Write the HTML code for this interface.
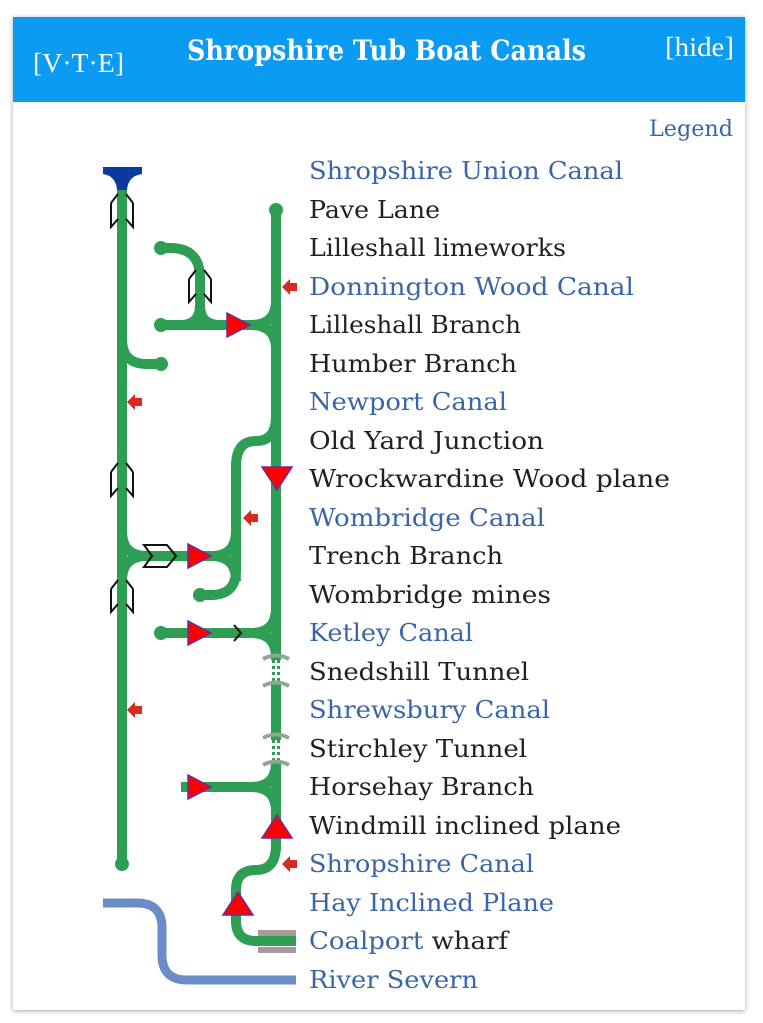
<!DOCTYPE html>
<html><head><meta charset="utf-8"><style>
body{margin:0;background:#fff;width:763px;height:1023px;overflow:hidden}
.card{position:absolute;left:13px;top:17px;width:732px;height:993px;background:#fff;box-shadow:0 1px 5px rgba(0,0,0,0.35)}
svg{position:absolute;left:0;top:0}
</style></head><body>
<div class="card"></div>
<svg width="763" height="1023" viewBox="0 0 763 1023" font-family="'DejaVu Serif','Liberation Serif',serif">
<rect x="13" y="17" width="732" height="85" fill="#0b9bf2"/>
<text x="33" y="72" font-size="27" fill="#fff" textLength="91" lengthAdjust="spacingAndGlyphs" font-family="'Liberation Serif',serif">[V·T·E]</text>
<text x="187" y="60" font-size="28" font-weight="bold" fill="#fff" textLength="399" lengthAdjust="spacingAndGlyphs">Shropshire Tub Boat Canals</text>
<text x="665" y="56" font-size="27" fill="#fff" textLength="69" lengthAdjust="spacingAndGlyphs" font-family="'Liberation Serif',serif">[hide]</text>
<text x="649" y="136" font-size="22" fill="#3a66a8" textLength="84" lengthAdjust="spacingAndGlyphs">Legend</text>

<g font-size="24">
<text x="309" y="179" fill="#3a66a8" textLength="314" lengthAdjust="spacingAndGlyphs">Shropshire Union Canal</text>
<text x="309" y="218" fill="#202122" textLength="131" lengthAdjust="spacingAndGlyphs">Pave Lane</text>
<text x="309" y="256" fill="#202122" textLength="257" lengthAdjust="spacingAndGlyphs">Lilleshall limeworks</text>
<text x="309" y="295" fill="#3a66a8" textLength="325" lengthAdjust="spacingAndGlyphs">Donnington Wood Canal</text>
<text x="309" y="333" fill="#202122" textLength="212" lengthAdjust="spacingAndGlyphs">Lilleshall Branch</text>
<text x="309" y="372" fill="#202122" textLength="208" lengthAdjust="spacingAndGlyphs">Humber Branch</text>
<text x="309" y="410" fill="#3a66a8" textLength="198" lengthAdjust="spacingAndGlyphs">Newport Canal</text>
<text x="309" y="449" fill="#202122" textLength="235" lengthAdjust="spacingAndGlyphs">Old Yard Junction</text>
<text x="309" y="487" fill="#202122" textLength="361" lengthAdjust="spacingAndGlyphs">Wrockwardine Wood plane</text>
<text x="309" y="526" fill="#3a66a8" textLength="236" lengthAdjust="spacingAndGlyphs">Wombridge Canal</text>
<text x="309" y="564" fill="#202122" textLength="194" lengthAdjust="spacingAndGlyphs">Trench Branch</text>
<text x="309" y="603" fill="#202122" textLength="242" lengthAdjust="spacingAndGlyphs">Wombridge mines</text>
<text x="309" y="641" fill="#3a66a8" textLength="164" lengthAdjust="spacingAndGlyphs">Ketley Canal</text>
<text x="309" y="680" fill="#202122" textLength="220" lengthAdjust="spacingAndGlyphs">Snedshill Tunnel</text>
<text x="309" y="718" fill="#3a66a8" textLength="241" lengthAdjust="spacingAndGlyphs">Shrewsbury Canal</text>
<text x="309" y="757" fill="#202122" textLength="218" lengthAdjust="spacingAndGlyphs">Stirchley Tunnel</text>
<text x="309" y="795" fill="#202122" textLength="225" lengthAdjust="spacingAndGlyphs">Horsehay Branch</text>
<text x="309" y="834" fill="#202122" textLength="312" lengthAdjust="spacingAndGlyphs">Windmill inclined plane</text>
<text x="309" y="872" fill="#3a66a8" textLength="225" lengthAdjust="spacingAndGlyphs">Shropshire Canal</text>
<text x="309" y="911" fill="#3a66a8" textLength="245" lengthAdjust="spacingAndGlyphs">Hay Inclined Plane</text>
<text x="309" y="949" fill="#3a66a8" textLength="199" lengthAdjust="spacingAndGlyphs">Coalport <tspan fill="#202122">wharf</tspan></text>
<text x="309" y="988" fill="#3a66a8" textLength="169" lengthAdjust="spacingAndGlyphs">River Severn</text>
</g>

<path d="M103,903 H137 Q162,903 162,928 V955 Q162,980 187,980 H296" fill="none" stroke="#6b8cc7" stroke-width="9"/>
<rect x="258" y="930" width="38" height="6" fill="#a89a9a"/>
<rect x="258" y="947" width="38" height="6" fill="#a89a9a"/>

<g fill="none" stroke="#2e9e55" stroke-width="10">
<path d="M122,180 V864"/>
<path d="M122,339 Q122,364 147,364 H161"/>
<path d="M276,210 V850"/>
<path d="M161,325 H251 Q276,325 276,300 M251,325 Q276,325 276,350"/>
<path d="M161,248 H170 Q200,248 200,278 V325 M180,325 Q200,325 200,305 M220,325 Q200,325 200,305"/>
<path d="M276,416 Q276,441 256,441 Q236,441 236,466 V570 Q236,595 211,595 H200"/>
<path d="M122,531 Q122,556 147,556 H211 Q236,556 236,531 M122,581 Q122,556 147,556 M211,556 Q236,556 236,581"/>
<path d="M161,633 H251 Q276,633 276,608 M251,633 Q276,633 276,658"/>
<path d="M181,787 H251 Q276,787 276,762 M251,787 Q276,787 276,812"/>
<path d="M276,845 Q276,870 256,870 Q236,870 236,890 V921 Q236,941 256,941 H296"/>
</g>
<g fill="#2e9e55">
<circle cx="122" cy="864" r="7"/><circle cx="161" cy="364" r="7"/><circle cx="276" cy="210" r="7"/>
<circle cx="161" cy="325" r="7"/><circle cx="161" cy="248" r="7"/><circle cx="200" cy="595" r="7"/>
<circle cx="161" cy="633" r="7"/>
</g>
<path d="M103,167 H142 V174 Q128,176 127,190 H117 Q116,176 103,174 Z" fill="#0a3aa0"/>

<g>
<rect x="270" y="660" width="13" height="22" fill="#fff"/>
<rect x="270" y="740" width="13" height="20" fill="#fff"/>
<path d="M273.5,660 V682 M278.5,660 V682 M273.5,740 V760 M278.5,740 V760" stroke="#2e9e55" stroke-width="3" stroke-dasharray="3,3"/>
<g fill="none" stroke="#8fa88f" stroke-width="4">
<path d="M263,659 Q276,652 289,659"/><path d="M263,686 Q276,679 289,686"/>
<path d="M263,738 Q276,731 289,738"/><path d="M263,765 Q276,758 289,765"/>
</g>
</g>

<g fill="none" stroke="#111" stroke-width="2">
<path d="M111,203 L118,194 M133,203 L126,194 M111,203 V227 L118,219 M133,203 V227 L126,219"/>
<path d="M189,279 L196,270 M211,279 L204,270 M189,279 V302 L196,294 M211,279 V302 L204,294"/>
<path d="M111,472 L118,463 M133,472 L126,463 M111,472 V496 L118,488 M133,472 V496 L126,488"/>
<path d="M111,589 L118,580 M133,589 L126,580 M111,589 V612 L118,604 M133,589 V612 L126,604"/>
<path d="M144,545 H167 L176,556 L167,567 H144 L152,556 Z"/>
<path d="M234,625 L241,633 L234,641"/>
</g>

<g fill="#ff0000" stroke="#6a2aa0" stroke-width="1.5">
<polygon points="227,313 250,325 227,337"/>
<polygon points="188,544 211,556 188,568"/>
<polygon points="188,621 211,633 188,645"/>
<polygon points="188,775 211,787 188,799"/>
<polygon points="262,467 292,467 277,490"/>
<polygon points="262,838 292,838 277,815"/>
<polygon points="223,915 253,915 238,892"/>
</g>
<g fill="#d82a20">
<polygon points="282,287 290,279 290,283 297,283 297,291 290,291 290,295"/>
<polygon points="282,864 290,856 290,860 297,860 297,868 290,868 290,872"/>
<polygon points="243,518 251,510 251,514 258,514 258,522 251,522 251,526"/>
<polygon points="127,402 135,394 135,398 142,398 142,406 135,406 135,410"/>
<polygon points="127,710 135,702 135,706 142,706 142,714 135,714 135,718"/>
</g>
</svg>
</body></html>
